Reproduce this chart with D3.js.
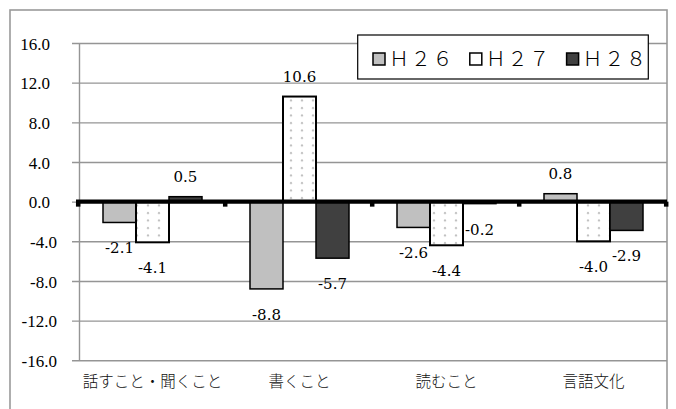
<!DOCTYPE html>
<html>
<head>
<meta charset="utf-8">
<script src="https://cdn.jsdelivr.net/npm/d3@7/dist/d3.min.js"></script>
<style>
  html, body { margin: 0; padding: 0; background: #fff; }
  svg { display: block; }
</style>
</head>
<body>
<svg id="chart" width="676" height="409"></svg>
<script>
// 区分ごとの前年度比較（H26〜H28）
const categories = ["話すこと・聞くこと", "書くこと", "読むこと", "言語文化"];
const seriesNames = ["Ｈ２６", "Ｈ２７", "Ｈ２８"];
const h26 = [-2.1, -8.8, -2.6, 0.8];
const h27 = [-4.1, 10.6, -4.4, -4.0];
const h28 = [0.5, -5.7, -0.2, -2.9];
const yTicks = [-16, -12, -8, -4, 0, 4, 8, 12, 16];

const seriesValues = [h26, h27, h28];

const svg = d3.select("#chart");
const W = 676, H = 409;
const plot = { left: 79, right: 667, top: 43, bottom: 360.3 };

svg.append("rect").attr("width", W).attr("height", H).attr("fill", "#fff");

// dotted fill used by the H27 bars
const defs = svg.append("defs");
const pat = defs.append("pattern")
  .attr("id", "dots").attr("patternUnits", "userSpaceOnUse")
  .attr("width", 11).attr("height", 7.5);
pat.append("rect").attr("width", 11).attr("height", 7.5).attr("fill", "#fff");
pat.append("circle").attr("cx", 5).attr("cy", 3).attr("r", 1.1).attr("fill", "#bdbdbd");

// outer chart frame
svg.append("rect")
  .attr("x", 10).attr("y", 10)
  .attr("width", 657).attr("height", 430)
  .attr("fill", "none").attr("stroke", "#9a9a9a").attr("stroke-width", 1.6);

const y = d3.scaleLinear().domain([-16, 16]).range([plot.bottom, plot.top]);

const x0 = d3.scaleBand()
  .domain(categories)
  .range([plot.left, plot.right])
  .paddingInner(48 / 147)
  .paddingOuter(24 / 147);

const x1 = d3.scaleBand()
  .domain(seriesNames)
  .range([0, x0.bandwidth()]);

// y axis with full-width gridlines
const yAxis = d3.axisLeft(y)
  .tickValues(yTicks)
  .tickSizeOuter(0)
  .tickFormat(d => d.toFixed(1));

const gy = svg.append("g")
  .attr("transform", `translate(${plot.left},0)`)
  .call(yAxis);

gy.select(".domain").attr("stroke", "#959595").attr("stroke-width", 1.4);
gy.selectAll(".tick line")
  .attr("x1", -7).attr("x2", plot.right - plot.left)
  .attr("stroke", "#959595").attr("stroke-width", 1.4);
gy.selectAll(".tick text")
  .attr("x", d => d < 0 ? -22 : -29)
  .attr("dy", "0.36em")
  .attr("fill", "#000")
  .style("font-family", "'Liberation Serif', 'Times New Roman', serif")
  .style("font-size", "17px");

const styles = [
  { fill: "#c0c0c0", stroke: "#000", sw: 1.5 },
  { fill: "url(#dots)", stroke: "#000", sw: 2 },
  { fill: "#404040", stroke: "#000", sw: 1.5 }
];

const barData = [];
seriesNames.forEach((s, si) => {
  categories.forEach((c, ci) => {
    barData.push({ series: s, si, cat: c, value: seriesValues[si][ci] });
  });
});

svg.append("g").selectAll("rect")
  .data(barData)
  .join("rect")
  .attr("x", d => x0(d.cat) + x1(d.series))
  .attr("width", x1.bandwidth())
  .attr("y", d => y(Math.max(0, d.value)))
  .attr("height", d => Math.abs(y(d.value) - y(0)))
  .attr("fill", d => styles[d.si].fill)
  .attr("stroke", d => styles[d.si].stroke)
  .attr("stroke-width", d => styles[d.si].sw);

// thick horizontal axis at zero with category-boundary tick marks
svg.append("line")
  .attr("x1", plot.left - 3).attr("x2", plot.right)
  .attr("y1", y(0)).attr("y2", y(0))
  .attr("stroke", "#000").attr("stroke-width", 4.2);

const boundaries = categories.map(c => x0(c) - x0.step() * x0.paddingOuter());
boundaries.push(plot.right);
svg.append("g").selectAll("line")
  .data(boundaries)
  .join("line")
  .attr("x1", d => d - 0.8).attr("x2", d => d - 0.8)
  .attr("y1", y(0)).attr("y2", y(0) + 5)
  .attr("stroke", "#000").attr("stroke-width", 4.5);

// value labels just outside the bar ends
svg.append("g").selectAll("text")
  .data(barData)
  .join("text")
  .attr("x", d => x0(d.cat) + x1(d.series) + x1.bandwidth() / 2)
  .attr("y", d => d.value < 0 ? y(d.value) + 31 : y(d.value) - 15)
  .attr("text-anchor", "middle")
  .attr("fill", "#000")
  .style("font-family", "'DejaVu Serif', serif")
  .style("font-size", "15px")
  .text(d => d.value.toFixed(1));

// category labels
svg.append("g").selectAll("text")
  .data(categories)
  .join("text")
  .attr("x", d => x0(d) + x0.bandwidth() / 2)
  .attr("y", 387)
  .attr("text-anchor", "middle")
  .attr("fill", "#111")
  .style("font-family", "'Noto Sans CJK JP', sans-serif")
  .style("font-weight", 300)
  .style("font-size", "15.5px")
  .text(d => d);

// legend
const legend = svg.append("g");
legend.append("rect")
  .attr("x", 357.7).attr("y", 35)
  .attr("width", 290.6).attr("height", 44)
  .attr("fill", "#fff").attr("stroke", "#000").attr("stroke-width", 1.2);

const legendStep = 96.8;
const items = legend.selectAll("g.item")
  .data(seriesNames)
  .join("g")
  .attr("class", "item")
  .attr("transform", (d, i) => `translate(${373 + i * legendStep},53)`);

items.append("rect")
  .attr("width", 12).attr("height", 12)
  .attr("fill", (d, i) => i === 1 ? "#fff" : styles[i].fill)
  .attr("stroke", "#000").attr("stroke-width", 1.5);

items.append("text")
  .attr("x", 16)
  .attr("y", 13)
  .attr("fill", "#000")
  .style("font-family", "'Noto Sans CJK JP', sans-serif")
  .style("font-weight", 300)
  .style("font-size", "20px")
  .style("letter-spacing", "1.7px")
  .text(d => d);
</script>
</body>
</html>
